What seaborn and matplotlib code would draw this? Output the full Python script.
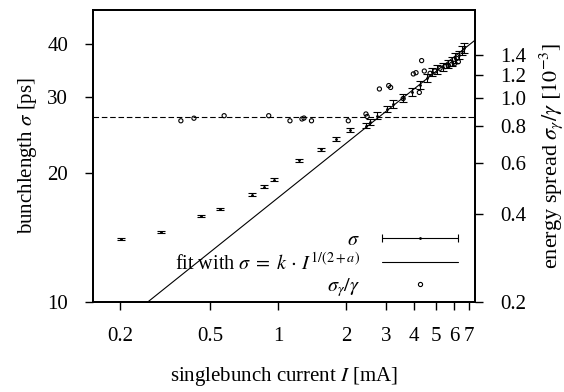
import numpy as np
import pandas as pd
import seaborn as sns
import matplotlib
matplotlib.use('Agg')
import matplotlib.pyplot as plt
from matplotlib.lines import Line2D
from matplotlib.legend_handler import HandlerErrorbar

# %%
# bunch length vs singlebunch current (left axis)
current = [0.203, 0.303, 0.455, 0.554, 0.767, 0.864, 0.957, 1.235, 1.545, 1.80,
           2.09, 2.45, 2.55, 2.73, 3.03, 3.24, 3.58, 3.90, 4.25, 4.55,
           4.79, 5.05, 5.37, 5.65, 5.89, 6.07, 6.29, 6.52, 6.65]
bunchlength = [14.0, 14.6, 15.9, 16.45, 17.8, 18.55, 19.3, 21.4, 22.7, 24.0,
               25.2, 25.8, 26.3, 27.2, 28.2, 29.0, 29.9, 30.9, 32.1, 33.3,
               34.4, 34.9, 35.4, 35.9, 36.4, 37.1, 37.7, 38.6, 39.1]
bunchlength_err = [0.08, 0.08, 0.1, 0.1, 0.12, 0.15, 0.15, 0.2, 0.2, 0.25,
                   0.3, 0.4, 0.4, 0.5, 0.5, 0.6, 0.6, 0.6, 0.7, 0.7,
                   0.7, 0.8, 0.8, 0.8, 0.9, 0.9, 0.9, 1.0, 1.0]

# energy spread sigma_gamma/gamma in 1e-3 (right axis)
current_es = [0.372, 0.425, 0.578, 0.910, 1.13, 1.277, 1.303, 1.407, 2.047, 2.45,
              2.48, 2.81, 3.09, 3.15, 3.58, 3.97, 4.08, 4.22, 4.32, 4.44,
              4.71, 4.95, 5.21, 5.48, 5.67, 5.87, 6.07, 6.18, 6.28]
energy_spread = [0.835, 0.852, 0.869, 0.869, 0.835, 0.847, 0.853, 0.835, 0.835, 0.881,
                 0.864, 1.073, 1.102, 1.086, 0.995, 1.208, 1.22, 1.044, 1.342, 1.236,
                 1.214, 1.236, 1.263, 1.28, 1.29, 1.304, 1.314, 1.366, 1.33]

# fit sigma = k * I^(1/(2+a))
fit_k = 17.5
fit_a = 0.37
fit_current = [0.15, 7.5]

sigma_threshold = 27.0

x_ticks = [0.2, 0.5, 1, 2, 3, 4, 5, 6, 7]
x_ticklabels = ['0.2', '0.5', '1', '2', '3', '4', '5', '6', '7']
y_ticks = [10, 20, 30, 40]
y2_ticks = [0.2, 0.4, 0.6, 0.8, 1.0, 1.2, 1.4]
y2_ticklabels = ['0.2', '0.4', '0.6', '0.8', '1.0', '1.2', '1.4']

# %%
sns.set_style('ticks', rc={'axes.edgecolor': 'black', 'text.color': 'black',
                           'xtick.color': 'black', 'ytick.color': 'black',
                           'axes.labelcolor': 'black'})
plt.rcParams['font.family'] = ['Liberation Serif', 'DejaVu Serif']
plt.rcParams['mathtext.fontset'] = 'stix'
plt.rcParams['font.size'] = 15

fig = plt.figure(figsize=(5.64, 3.92), dpi=100)
ax = fig.add_axes([93 / 564, 1 - 302 / 392, 382 / 564, 292 / 392])
ax2 = ax.twinx()

# bunch length with error bars
ax.errorbar(current, bunchlength, yerr=bunchlength_err, fmt='.', ms=2,
            color='black', elinewidth=0.8, capsize=3, capthick=0.8)

# fit line
fit_df = pd.DataFrame({'I': fit_current})
fit_df['sigma'] = fit_k * np.power(fit_df['I'], 1 / (2 + fit_a))
sns.lineplot(data=fit_df, x='I', y='sigma', ax=ax, color='black', lw=0.8, legend=False)

# threshold
ax.axhline(sigma_threshold, color='black', lw=0.8, ls=(0, (5, 2.5)))

# energy spread
sns.scatterplot(x=current_es, y=energy_spread, ax=ax2, marker='o', s=9,
                facecolors='none', edgecolor='black', linewidth=0.8)

ax.set_xscale('log')
ax.set_yscale('log')
ax2.set_yscale('log')
ax.set_xlim(0.152, 7.44)
ax.set_ylim(10, 48)
ax2.set_ylim(0.2, 2.0)

ax.set_xticks(x_ticks, x_ticklabels)
ax.set_yticks(y_ticks, [str(t) for t in y_ticks])
ax2.set_yticks(y2_ticks, y2_ticklabels)
ax.minorticks_off()
ax2.minorticks_off()

ax.tick_params(axis='x', length=6, width=1, pad=12, labelsize=15, top=False)
ax.tick_params(axis='y', length=6, width=1, pad=12, labelsize=15, right=False)
ax2.tick_params(axis='y', length=6, width=1, pad=12, labelsize=15, left=False)
for a in (ax, ax2):
    for s in a.spines.values():
        s.set_linewidth(1.3)
        s.set_visible(True)

ax.set_xlabel('singlebunch current $I$ [mA]', labelpad=14)
ax.set_ylabel(r'bunchlength $\sigma$ [ps]', labelpad=6)
ax2.set_ylabel(r'energy spread $\sigma_\gamma/\gamma$ $[10^{-3}]$', rotation=90,
               labelpad=8, fontsize=16)

# legend
leg_eb = ax.errorbar([np.nan], [np.nan], xerr=[1.0], fmt='.', ms=2, color='black',
                     elinewidth=0.8, capsize=3, capthick=0.8)
handles = [leg_eb,
           Line2D([], [], color='black', lw=0.8),
           Line2D([], [], ls='none', marker='o', ms=3, mfc='none', mec='black', mew=0.8)]
labels = [r'$\sigma$', r'fit with $\sigma\;=\;k\,\cdot\,I^{1/(2+a)}$', r'$\sigma_\gamma/\gamma$']
ax2.legend(handles, labels, loc='lower right', bbox_to_anchor=(0.955, 0.01),
           frameon=False, markerfirst=False, numpoints=1, handlelength=3.75,
           handletextpad=1.1, labelspacing=0.1, borderpad=0, borderaxespad=0,
           prop={'size': 14.5},
           handler_map={leg_eb: HandlerErrorbar(xerr_size=1.875)})

fig.savefig('out.png', dpi=100)
